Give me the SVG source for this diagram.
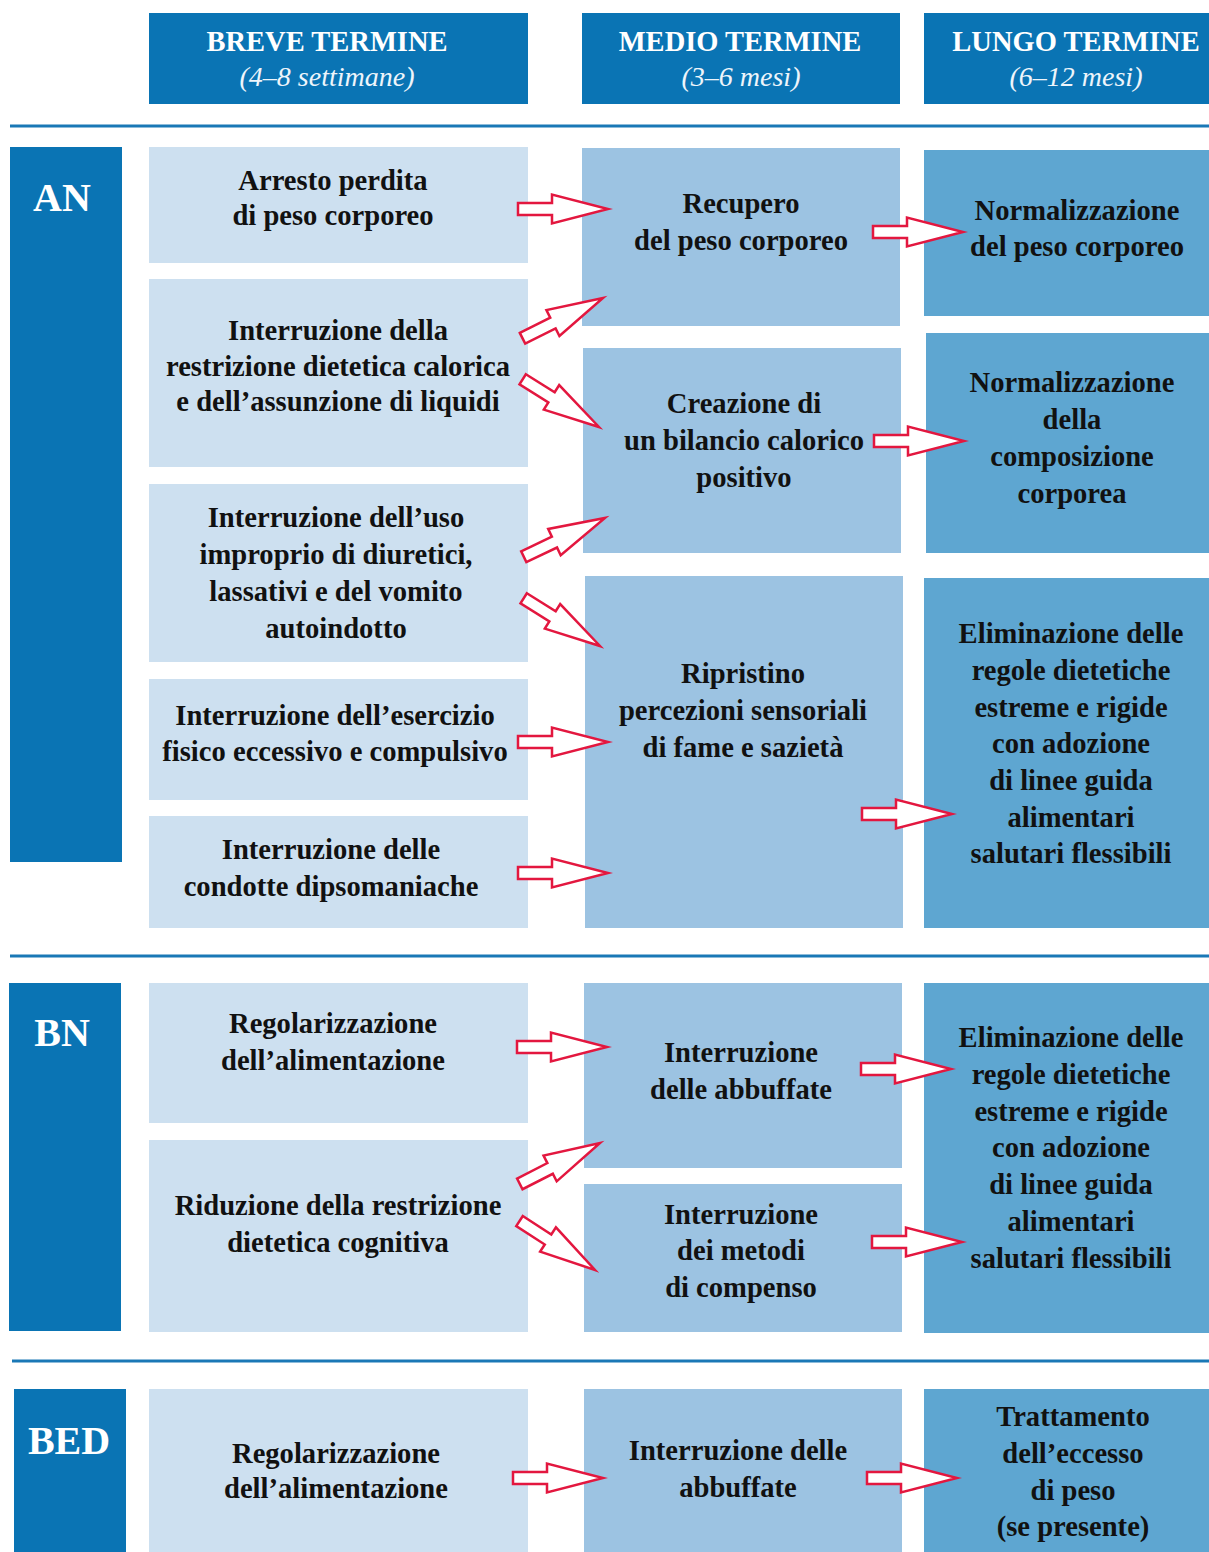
<svg xmlns="http://www.w3.org/2000/svg" width="1209" height="1552" viewBox="0 0 1209 1552">
<style>
.dk{fill:#0a74b4}
.c1{fill:#cde0f0}
.c2{fill:#9cc3e2}
.c3{fill:#5ea6d1}
text{font-family:"Liberation Serif","DejaVu Serif",serif;text-anchor:middle}
.h{font-size:28.5px;font-weight:bold;fill:#ffffff}
.hs{font-size:28px;font-style:italic;fill:#eef5fb}
.lab{font-size:40px;font-weight:bold;fill:#ffffff}
.t{font-size:28.6px;font-weight:bold;fill:#111111}
.sep{stroke:#1a78b6;stroke-width:3}
.arr{fill:#ffffff;stroke:#e3173f;stroke-width:2.5;stroke-linejoin:miter}
</style>
<defs>
<path id="ar" d="M-90,-6 L-56,-6 L-56,-14.5 L0,0 L-56,14.5 L-56,6 L-90,6 Z"/>
</defs>
<rect width="1209" height="1552" fill="#ffffff"/>

<g id="headers">
<g id="h-breve"><rect class="dk" x="149" y="13" width="379" height="91"/><text class="h" x="327" y="51">BREVE TERMINE</text><text class="hs" x="327" y="86">(4–8 settimane)</text></g>
<g id="h-medio"><rect class="dk" x="582" y="13" width="318" height="91"/><text class="h" x="740" y="51">MEDIO TERMINE</text><text class="hs" x="741" y="86">(3–6 mesi)</text></g>
<g id="h-lungo"><rect class="dk" x="924" y="13" width="285" height="91"/><text class="h" x="1076" y="51">LUNGO TERMINE</text><text class="hs" x="1076" y="86">(6–12 mesi)</text></g>
</g>

<g id="separators">
<line class="sep" x1="10" y1="126" x2="1209" y2="126"/>
<line class="sep" x1="10" y1="956" x2="1209" y2="956"/>
<line class="sep" x1="12" y1="1361" x2="1209" y2="1361"/>
</g>

<g id="an">
<g id="an-label"><rect class="dk" x="10" y="147" width="112" height="715"/><text class="lab" x="62" y="211">AN</text></g>
<g id="an-s1"><rect class="c1" x="149" y="147" width="379" height="116"/><text class="t" x="333" y="190">Arresto perdita</text><text class="t" x="333" y="225">di peso corporeo</text></g>
<g id="an-s2"><rect class="c1" x="149" y="279" width="379" height="188"/><text class="t" x="338" y="340">Interruzione della</text><text class="t" x="338" y="376">restrizione dietetica calorica</text><text class="t" x="338" y="411">e dell’assunzione di liquidi</text></g>
<g id="an-s3"><rect class="c1" x="149" y="484" width="379" height="178"/><text class="t" x="336" y="527">Interruzione dell’uso</text><text class="t" x="336" y="564">improprio di diuretici,</text><text class="t" x="336" y="601">lassativi e del vomito</text><text class="t" x="336" y="638">autoindotto</text></g>
<g id="an-s4"><rect class="c1" x="149" y="679" width="379" height="121"/><text class="t" x="335" y="725">Interruzione dell’esercizio</text><text class="t" x="335" y="761">fisico eccessivo e compulsivo</text></g>
<g id="an-s5"><rect class="c1" x="149" y="816" width="379" height="112"/><text class="t" x="331" y="859">Interruzione  delle</text><text class="t" x="331" y="896">condotte dipsomaniache</text></g>
<g id="an-m1"><rect class="c2" x="582" y="148" width="318" height="178"/><text class="t" x="741" y="213">Recupero</text><text class="t" x="741" y="250">del peso corporeo</text></g>
<g id="an-m2"><rect class="c2" x="583" y="348" width="318" height="205"/><text class="t" x="744" y="413">Creazione di</text><text class="t" x="744" y="450">un bilancio calorico</text><text class="t" x="744" y="487">positivo</text></g>
<g id="an-m3"><rect class="c2" x="585" y="576" width="318" height="352"/><text class="t" x="743" y="683">Ripristino</text><text class="t" x="743" y="720">percezioni sensoriali</text><text class="t" x="743" y="757">di fame e sazietà</text></g>
<g id="an-l1"><rect class="c3" x="924" y="150" width="285" height="166"/><text class="t" x="1077" y="220">Normalizzazione</text><text class="t" x="1077" y="256">del peso corporeo</text></g>
<g id="an-l2"><rect class="c3" x="926" y="333" width="283" height="220"/><text class="t" x="1072" y="392">Normalizzazione</text><text class="t" x="1072" y="429">della</text><text class="t" x="1072" y="466">composizione</text><text class="t" x="1072" y="503">corporea</text></g>
<g id="an-l3"><rect class="c3" x="924" y="578" width="285" height="350"/><text class="t" x="1071" y="643">Eliminazione delle</text><text class="t" x="1071" y="680">regole dietetiche</text><text class="t" x="1071" y="717">estreme e rigide</text><text class="t" x="1071" y="753">con adozione</text><text class="t" x="1071" y="790">di linee guida</text><text class="t" x="1071" y="827">alimentari</text><text class="t" x="1071" y="863">salutari flessibili</text></g>
</g>

<g id="bn">
<g id="bn-label"><rect class="dk" x="9" y="983" width="112" height="348"/><text class="lab" x="62" y="1046">BN</text></g>
<g id="bn-s1"><rect class="c1" x="149" y="983" width="379" height="140"/><text class="t" x="333" y="1033">Regolarizzazione</text><text class="t" x="333" y="1070">dell’alimentazione</text></g>
<g id="bn-s2"><rect class="c1" x="149" y="1140" width="379" height="192"/><text class="t" x="338" y="1215">Riduzione della restrizione</text><text class="t" x="338" y="1252">dietetica cognitiva</text></g>
<g id="bn-m1"><rect class="c2" x="584" y="983" width="318" height="185"/><text class="t" x="741" y="1062">Interruzione</text><text class="t" x="741" y="1099">delle abbuffate</text></g>
<g id="bn-m2"><rect class="c2" x="584" y="1184" width="318" height="148"/><text class="t" x="741" y="1224">Interruzione</text><text class="t" x="741" y="1260">dei metodi</text><text class="t" x="741" y="1297">di compenso</text></g>
<g id="bn-l1"><rect class="c3" x="924" y="983" width="285" height="350"/><text class="t" x="1071" y="1047">Eliminazione delle</text><text class="t" x="1071" y="1084">regole dietetiche</text><text class="t" x="1071" y="1121">estreme e rigide</text><text class="t" x="1071" y="1157">con adozione</text><text class="t" x="1071" y="1194">di linee guida</text><text class="t" x="1071" y="1231">alimentari</text><text class="t" x="1071" y="1268">salutari flessibili</text></g>
</g>

<g id="bed">
<g id="bed-label"><rect class="dk" x="14" y="1389" width="112" height="163"/><text class="lab" x="69" y="1454">BED</text></g>
<g id="bed-s1"><rect class="c1" x="149" y="1389" width="379" height="163"/><text class="t" x="336" y="1463">Regolarizzazione</text><text class="t" x="336" y="1498">dell’alimentazione</text></g>
<g id="bed-m1"><rect class="c2" x="584" y="1389" width="318" height="163"/><text class="t" x="738" y="1460">Interruzione delle</text><text class="t" x="738" y="1497">abbuffate</text></g>
<g id="bed-l1"><rect class="c3" x="924" y="1389" width="285" height="163"/><text class="t" x="1073" y="1426">Trattamento</text><text class="t" x="1073" y="1463">dell’eccesso</text><text class="t" x="1073" y="1500">di peso</text><text class="t" x="1073" y="1536">(se presente)</text></g>
</g>

<g id="connectors">
<use href="#ar" class="arr" transform="translate(608,209)"/>
<use href="#ar" class="arr" transform="translate(963,232)"/>
<use href="#ar" class="arr" transform="translate(603,298) rotate(-26.6)"/>
<use href="#ar" class="arr" transform="translate(599,427) rotate(32)"/>
<use href="#ar" class="arr" transform="translate(964,441)"/>
<use href="#ar" class="arr" transform="translate(605,518) rotate(-25.5)"/>
<use href="#ar" class="arr" transform="translate(600,646) rotate(32)"/>
<use href="#ar" class="arr" transform="translate(608,742)"/>
<use href="#ar" class="arr" transform="translate(608,873)"/>
<use href="#ar" class="arr" transform="translate(952,814)"/>
<use href="#ar" class="arr" transform="translate(607,1047)"/>
<use href="#ar" class="arr" transform="translate(951,1069)"/>
<use href="#ar" class="arr" transform="translate(600,1143) rotate(-27)"/>
<use href="#ar" class="arr" transform="translate(595,1270) rotate(33)"/>
<use href="#ar" class="arr" transform="translate(962,1242)"/>
<use href="#ar" class="arr" transform="translate(603,1478)"/>
<use href="#ar" class="arr" transform="translate(957,1478)"/>
</g>
</svg>
